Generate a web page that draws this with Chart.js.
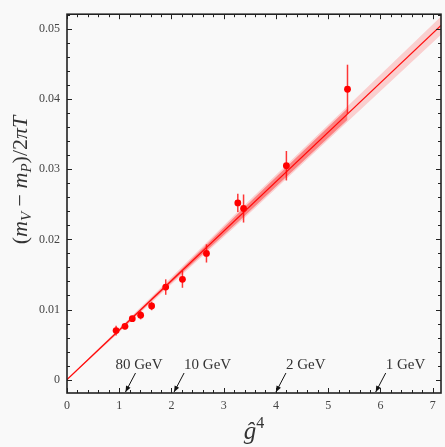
<!DOCTYPE html>
<html>
<head>
<meta charset="utf-8">
<script src="https://cdn.jsdelivr.net/npm/chart.js@4.4.1/dist/chart.umd.min.js"></script>
<style>
  html, body { margin: 0; padding: 0; background: #f9f9f9; }
  #wrap { width: 445px; height: 447px; }
</style>
</head>
<body>
<div id="wrap"><canvas id="chart" width="445" height="447"></canvas></div>
<script>
// lattice points
const g4 = [0.94, 1.11, 1.25, 1.41, 1.62, 1.89, 2.21, 2.67, 3.27, 3.38, 4.20, 5.37];
const dm = [0.0070, 0.0076, 0.0087, 0.0092, 0.0105, 0.0132, 0.0143, 0.0180, 0.0252, 0.0244, 0.0305, 0.0414];
const dmErr = [0.0007, 0.0004, 0.0004, 0.0006, 0.0006, 0.0011, 0.0012, 0.0013, 0.0013, 0.0020, 0.0021, 0.0035];

// fit line + error bands
const fitX = [0, 7.16];
const fitY = [0.0000, 0.0505];
const outerX = [0, 2, 3.3, 5.37, 7.16];
const outerLo = [-0.0001, 0.0136, 0.02237, 0.03676, 0.04918];
const outerHi = [0.0001, 0.0146, 0.02417, 0.03896, 0.05178];
const innerX = [0, 2, 3.3, 5.37];
const innerLo = [-0.00005, 0.01385, 0.02267, 0.03706];
const innerHi = [0.00005, 0.01435, 0.02387, 0.03866];

// temperature marks on the g^4 axis
const tempLabels = ["80 GeV", "10 GeV", "2 GeV", "1 GeV"];
const tempG4 = [1.12, 2.05, 4.0, 5.91];

// axis ticks
const xMajor = [0, 1, 2, 3, 4, 5, 6, 7];
const yMajor = [0, 0.01, 0.02, 0.03, 0.04, 0.05];

const SERIF = "'Liberation Serif', 'DejaVu Serif', serif";

function pts(xs, ys) {
  return xs.map((x, i) => ({x: x, y: ys[i]}));
}

function drawParts(ctx, parts, x, y) {
  // draws a row of text pieces centred on x
  let total = 0;
  parts.forEach(p => { ctx.font = p.font; total += ctx.measureText(p.t).width; });
  let cx = x - total / 2;
  parts.forEach(p => {
    ctx.font = p.font;
    ctx.fillText(p.t, cx, y + (p.dy || 0));
    cx += ctx.measureText(p.t).width;
  });
}

const errorBars = {
  id: 'errorBars',
  beforeDatasetDraw(chart, args) {
    if (args.index != 5) return;
    const ctx = chart.ctx;
    const xs = chart.scales.x, ys = chart.scales.y;
    ctx.save();
    ctx.strokeStyle = 'rgba(255,20,20,0.85)';
    ctx.lineWidth = 1.5;
    g4.forEach((x, i) => {
      let px = xs.getPixelForValue(x);
      ctx.beginPath();
      ctx.moveTo(px, ys.getPixelForValue(dm[i] - dmErr[i]));
      ctx.lineTo(px, ys.getPixelForValue(dm[i] + dmErr[i]));
      ctx.stroke();
    });
    ctx.restore();
  }
};

const frameAndLabels = {
  id: 'frameAndLabels',
  afterDraw(chart) {
    const ctx = chart.ctx;
    const a = chart.chartArea;
    const xs = chart.scales.x, ys = chart.scales.y;
    ctx.save();

    // inward ticks on all four sides
    ctx.strokeStyle = '#222';
    ctx.lineWidth = 1;
    ctx.beginPath();
    for (let v = 0; v <= 7.1; v += 0.2) {
      let px = Math.round(xs.getPixelForValue(v)) + 0.5;
      let major = Math.abs(v - Math.round(v)) < 1e-6;
      let len = major ? 5 : 3;
      ctx.moveTo(px, a.bottom); ctx.lineTo(px, a.bottom - len);
      ctx.moveTo(px, a.top); ctx.lineTo(px, a.top + len);
    }
    for (let v = 0; v <= 0.0521; v += 0.002) {
      let py = Math.round(ys.getPixelForValue(v)) + 0.5;
      let major = Math.abs(v * 100 - Math.round(v * 100)) < 1e-6;
      let len = major ? 5 : 3;
      ctx.moveTo(a.left, py); ctx.lineTo(a.left + len, py);
      ctx.moveTo(a.right, py); ctx.lineTo(a.right - len, py);
    }
    ctx.stroke();

    // frame
    ctx.lineWidth = 1.6;
    ctx.strokeRect(a.left, a.top, a.right - a.left, a.bottom - a.top);

    // temperature arrows
    ctx.fillStyle = '#333';
    ctx.font = '15px ' + SERIF;
    ctx.textAlign = 'left';
    const labelShift = [20, 0, 0, 0];
    tempG4.forEach((x, i) => {
      let tipX = xs.getPixelForValue(x);
      let tipY = a.bottom - 1;
      let tailX = tipX + 10, tailY = a.bottom - 20;
      ctx.strokeStyle = '#111';
      ctx.lineWidth = 1;
      ctx.beginPath();
      ctx.moveTo(tailX, tailY);
      ctx.lineTo(tipX, tipY);
      ctx.stroke();
      let ang = Math.atan2(tipY - tailY, tipX - tailX);
      ctx.fillStyle = '#111';
      ctx.beginPath();
      ctx.moveTo(tipX, tipY);
      ctx.lineTo(tipX - 6 * Math.cos(ang) + 2.5 * Math.sin(ang), tipY - 6 * Math.sin(ang) - 2.5 * Math.cos(ang));
      ctx.lineTo(tipX - 6 * Math.cos(ang) - 2.5 * Math.sin(ang), tipY - 6 * Math.sin(ang) + 2.5 * Math.cos(ang));
      ctx.closePath();
      ctx.fill();
      ctx.fillStyle = '#333';
      ctx.fillText(tempLabels[i], tailX - labelShift[i], a.bottom - 24);
    });

    // x title: g-hat^4
    ctx.fillStyle = '#333';
    drawParts(ctx, [
      {t: 'ĝ', font: 'italic 25px ' + SERIF},
      {t: '4', font: '16px ' + SERIF, dy: -11}
    ], (a.left + a.right) / 2, 439);

    // y title
    ctx.translate(27, 180);
    ctx.rotate(-Math.PI / 2);
    const big = '22px ' + SERIF, it = 'italic 22px ' + SERIF, sub = 'italic 15px ' + SERIF;
    drawParts(ctx, [
      {t: '(', font: big},
      {t: 'm', font: it},
      {t: 'V', font: sub, dy: 4},
      {t: ' − ', font: big},
      {t: 'm', font: it},
      {t: 'P', font: sub, dy: 4},
      {t: ')/2', font: big},
      {t: 'π', font: it},
      {t: 'T', font: it}
    ], 0, 0);
    ctx.restore();
  }
};

const ctx = document.getElementById('chart');
new Chart(ctx, {
  type: 'scatter',
  data: {
    datasets: [
      { data: pts(outerX, outerHi), showLine: true, pointRadius: 0, borderWidth: 0, fill: false },
      { data: pts(outerX, outerLo), showLine: true, pointRadius: 0, borderWidth: 0,
        fill: '-1', backgroundColor: 'rgba(255,0,0,0.17)' },
      { data: pts(innerX, innerHi), showLine: true, pointRadius: 0, borderWidth: 0, fill: false },
      { data: pts(innerX, innerLo), showLine: true, pointRadius: 0, borderWidth: 0,
        fill: '-1', backgroundColor: 'rgba(255,0,0,0.38)' },
      { data: pts(fitX, fitY), showLine: true, pointRadius: 0, borderWidth: 1.2,
        borderColor: '#ff1010', fill: false },
      { data: pts(g4, dm), pointRadius: 3.4, pointBackgroundColor: '#ff0000',
        pointBorderColor: '#ff0000', pointBorderWidth: 0 }
    ]
  },
  options: {
    responsive: false,
    animation: false,
    layout: { padding: { top: 6, right: 1, left: 0, bottom: 0 } },
    plugins: { legend: { display: false }, tooltip: { enabled: false } },
    scales: {
      x: {
        type: 'linear', min: 0, max: 7.16,
        afterFit(scale) { scale.height = 54; },
        grid: { display: false, drawTicks: false },
        border: { display: false },
        ticks: {
          stepSize: 1, includeBounds: false, padding: 6, color: '#444',
          font: { family: SERIF, size: 12 }
        }
      },
      y: {
        type: 'linear', min: -0.0019, max: 0.0521,
        afterFit(scale) { scale.width = 67; },
        grid: { display: false, drawTicks: false },
        border: { display: false },
        ticks: {
          stepSize: 0.01, includeBounds: false, padding: 7, color: '#444',
          font: { family: SERIF, size: 12 },
          callback: v => yMajor.some(m => Math.abs(m - v) < 1e-9) ? String(+v.toFixed(2)) : ''
        }
      }
    }
  },
  plugins: [errorBars, frameAndLabels]
});
</script>
</body>
</html>
